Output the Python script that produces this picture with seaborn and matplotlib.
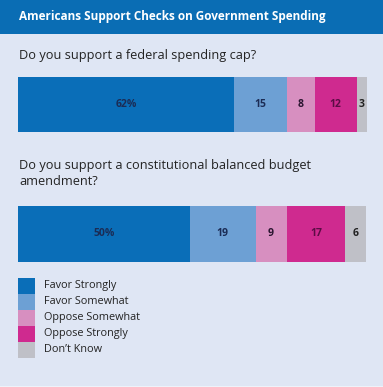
import matplotlib
matplotlib.use("Agg")
import matplotlib.pyplot as plt
import seaborn as sns
from matplotlib.patches import Rectangle

# --- data ---
title = "Americans Support Checks on Government Spending"
questions = ["Do you support a federal spending cap?",
             "Do you support a constitutional balanced budget\namendment?"]
categories = ["Favor Strongly", "Favor Somewhat", "Oppose Somewhat",
              "Oppose Strongly", "Don\u2019t Know"]
cap_values = [62, 15, 8, 12, 3]
budget_values = [50, 19, 9, 17, 6]

# --- style ---
BG = "#dfe6f4"
HEADER = "#0a6db4"
colors = ["#0a6eb8", "#6da0d4", "#d78fc0", "#cf2a8f", "#bfc0c7"]
label_colors = ["#1b2c55", "#1b2c55", "#2a1530", "#5c0c45", "#222222"]
FONT = "Open Sans"

sns.set_theme(style="white")
plt.rcParams["font.family"] = [FONT, "DejaVu Sans"]

W, H = 383, 387
fig = plt.figure(figsize=(W / 100, H / 100), dpi=100, facecolor=BG)

# overlay axes in pixel coordinates for header, questions, legend
over = fig.add_axes([0, 0, 1, 1])
over.set_xlim(0, W)
over.set_ylim(H, 0)
over.axis("off")
over.add_patch(Rectangle((0, 0), W, 33.5, color=HEADER, lw=0))
over.add_patch(Rectangle((0, 385.5), W, 2, color="#eef2f9", lw=0))
over.text(19, 16.5, title, color="white", fontsize=8.5, fontweight="bold",
          va="center", ha="left")
over.text(19, 55, questions[0], color="#232323", fontsize=9.2, va="center")
over.text(19, 173.5, questions[1], color="#232323", fontsize=9.2, va="center",
          linespacing=1.3)


def stacked_bar(values, rect):
    ax = fig.add_axes(rect)
    cum = [sum(values[:i + 1]) for i in range(len(values))]
    # draw cumulative totals from the back so each segment shows
    for i in reversed(range(len(values))):
        sns.barplot(x=[cum[i]], y=["q"], color=colors[i], saturation=1,
                    width=1, orient="h", linewidth=0, ax=ax)
    left = 0
    for i, v in enumerate(values):
        lab = f"{v}%" if i == 0 else str(v)
        ax.text(left + v / 2, 0, lab, ha="center", va="center",
                fontsize=7.5, fontweight="bold", color=label_colors[i])
        left += v
    ax.set_xlim(0, sum(values))
    ax.set_ylim(0.5, -0.5)
    ax.axis("off")
    return ax


def px_rect(x0, y0, x1, y1):
    return [x0 / W, 1 - y1 / H, (x1 - x0) / W, (y1 - y0) / H]


stacked_bar(cap_values, px_rect(17.5, 77, 367, 132))
stacked_bar(budget_values, px_rect(17.5, 206, 366, 261.5))

# legend: contiguous swatches
sw_top, sw_h = 278, 16
for i, (cat, c) in enumerate(zip(categories, colors)):
    y = sw_top + i * sw_h
    over.add_patch(Rectangle((18, y), 17, sw_h, color=c, lw=0))
    over.text(44, y + sw_h / 2 - 0.5, cat, color="#232323", fontsize=7.8,
              va="center", ha="left")

fig.savefig("out.png", dpi=100, facecolor=BG)
